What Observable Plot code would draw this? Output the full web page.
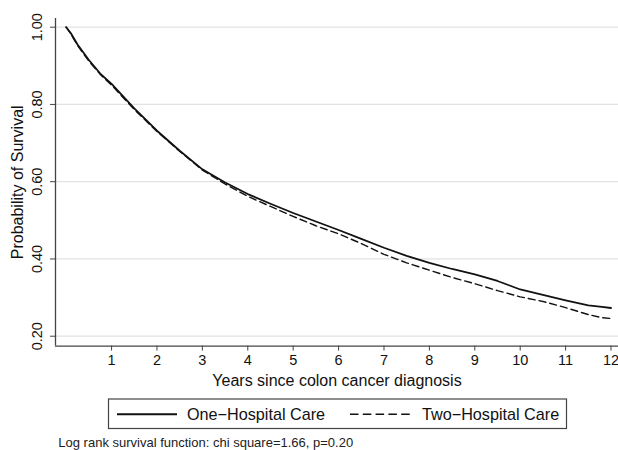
<!DOCTYPE html>
<html>
<head>
<meta charset="utf-8">
<script src="https://cdn.jsdelivr.net/npm/d3@7"></script>
<script src="https://cdn.jsdelivr.net/npm/@observablehq/plot@0.6"></script>
<style>
  html, body { margin: 0; padding: 0; background: #fff; }
  body { width: 618px; height: 450px; overflow: hidden; font-family: "Liberation Sans", Arial, Helvetica, sans-serif; }
  #chart svg, #below svg { display: block; }
</style>
</head>
<body>
<div id="chart"></div>
<div id="below"></div>
<script>
const years = [0, 0.1, 0.25, 0.5, 0.75, 1.0, 1.5, 2.0, 2.5, 3.0, 3.5, 4.0, 4.5, 5.0, 5.5, 6.0, 6.5, 7.0, 7.5, 8.0, 8.5, 9.0, 9.5, 10.0, 10.5, 11.0, 11.5, 11.8, 12.0];
const oneHospital = [1.0, 0.985, 0.955, 0.915, 0.88, 0.853, 0.79, 0.732, 0.68, 0.632, 0.598, 0.568, 0.543, 0.519, 0.497, 0.475, 0.452, 0.429, 0.408, 0.39, 0.374, 0.36, 0.343, 0.321, 0.307, 0.293, 0.28, 0.276, 0.273];
const twoHospital = [1.0, 0.983, 0.953, 0.912, 0.878, 0.85, 0.787, 0.73, 0.679, 0.63, 0.594, 0.562, 0.536, 0.51, 0.486, 0.465, 0.44, 0.412, 0.39, 0.371, 0.352, 0.336, 0.318, 0.302, 0.29, 0.274, 0.256, 0.248, 0.246];
const xTicks = [1, 2, 3, 4, 5, 6, 7, 8, 9, 10, 11, 12];
const yTicks = [0.2, 0.4, 0.6, 0.8, 1.0];
const seriesNames = ["One\u2212Hospital Care", "Two\u2212Hospital Care"];
const captionText = "Log rank survival function: chi square=1.66, p=0.20";

const data = [];
years.forEach((t, i) => {
  data.push({t, s: oneHospital[i], group: seriesNames[0]});
  data.push({t, s: twoHospital[i], group: seriesNames[1]});
});

const font = "Liberation Sans, Arial, Helvetica, sans-serif";
const xMin = -0.235, yMin = 0.1744;

const chart = Plot.plot({
  width: 618,
  height: 392,
  marginLeft: 55,
  marginRight: 0,
  marginTop: 18,
  marginBottom: 46.4,
  style: {fontFamily: font, fontSize: "14.5px", color: "#111", background: "#fff"},
  x: {domain: [xMin, 12.165]},
  y: {domain: [yMin, 1.0225]},
  marks: [
    Plot.gridY(yTicks, {stroke: "#e2e2e2", strokeOpacity: 1, strokeWidth: 1.3}),
    Plot.ruleX([xMin], {stroke: "#444", strokeWidth: 1.3}),
    Plot.ruleY([yMin], {stroke: "#444", strokeWidth: 1.3}),
    Plot.axisY(yTicks, {
      tickFormat: d3.format(".2f"),
      tickSize: 5,
      tickPadding: 9,
      tickRotate: -90,
      stroke: "#444",
      fontSize: 14.5,
      label: null
    }),
    Plot.axisY({
      ticks: [],
      tickSize: 0,
      label: "Probability of Survival",
      labelAnchor: "center",
      labelOffset: 44,
      labelArrow: "none",
      fontSize: 16
    }),
    Plot.axisX(xTicks, {
      tickSize: 5,
      tickPadding: 4,
      stroke: "#444",
      fontSize: 14.5,
      label: null
    }),
    Plot.axisX({
      ticks: [],
      tickSize: 0,
      label: "Years since colon cancer diagnosis",
      labelAnchor: "center",
      labelOffset: 40,
      labelArrow: "none",
      fontSize: 16
    }),
    Plot.line(data.filter(d => d.group === seriesNames[1]), {x: "t", y: "s", stroke: "#111", strokeWidth: 1.4, strokeDasharray: "7,4"}),
    Plot.line(data.filter(d => d.group === seriesNames[0]), {x: "t", y: "s", stroke: "#111", strokeWidth: 1.8})
  ]
});
document.getElementById("chart").appendChild(chart);

// Legend + caption below the plot
const top0 = 392;
const svg = d3.select("#below").append("svg").attr("width", 618).attr("height", 450 - top0)
  .style("font-family", font);
const bx = 108.5, by = 399 - top0, bw = 458, bh = 29.5;
svg.append("rect").attr("x", bx).attr("y", by).attr("width", bw).attr("height", bh)
  .attr("fill", "#fff").attr("stroke", "#444").attr("stroke-width", 1.2);
const ly = by + bh / 2 + 0.5;
svg.append("line").attr("x1", bx + 8.5).attr("x2", bx + 68.5).attr("y1", ly).attr("y2", ly)
  .attr("stroke", "#111").attr("stroke-width", 1.8);
svg.append("text").attr("x", bx + 78.5).attr("y", ly + 6).attr("font-size", "16.2px").attr("fill", "#111").text(seriesNames[0]);
svg.append("line").attr("x1", bx + 241.5).attr("x2", bx + 302).attr("y1", ly).attr("y2", ly)
  .attr("stroke", "#111").attr("stroke-width", 1.4).attr("stroke-dasharray", "8.5,4.3");
svg.append("text").attr("x", bx + 313.5).attr("y", ly + 6).attr("font-size", "16.2px").attr("fill", "#111").text(seriesNames[1]);
svg.append("text").attr("x", 58.3).attr("y", 446.5 - top0).attr("font-size", "13px").attr("fill", "#222").text(captionText);
</script>
</body>
</html>
